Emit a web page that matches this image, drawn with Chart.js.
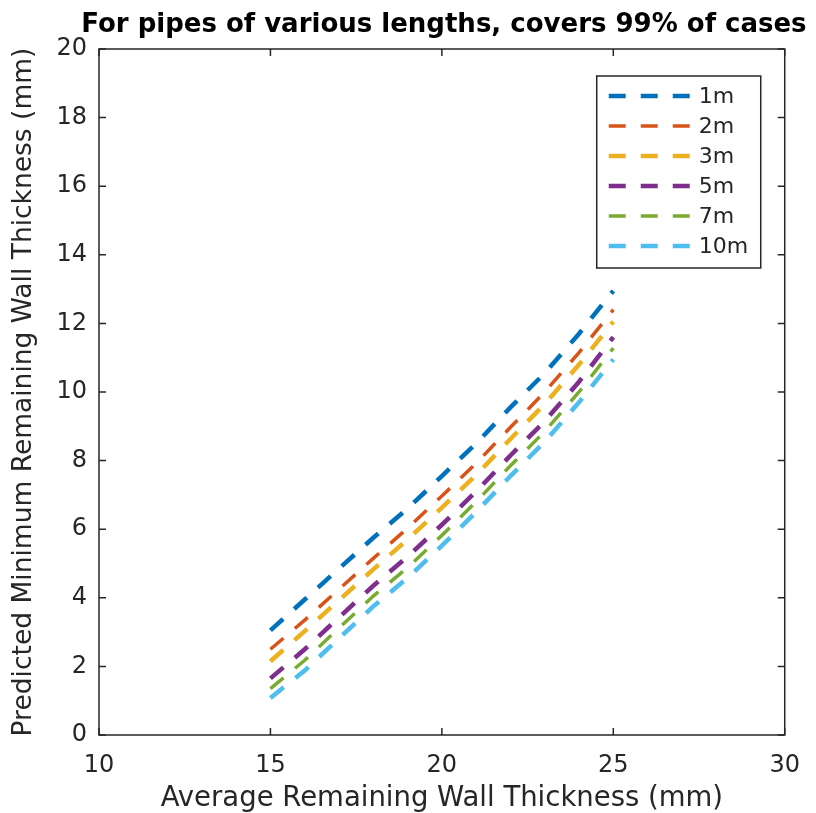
<!DOCTYPE html>
<html>
<head>
<meta charset="utf-8">
<script src="https://cdn.jsdelivr.net/npm/chart.js@4.4.1/dist/chart.umd.min.js"></script>
<style>
  html, body { margin: 0; padding: 0; background: #fff; }
  canvas { display: block; }
</style>
</head>
<body>
<canvas id="wallChart" width="816" height="813"></canvas>
<script>
// Valores (espessura média x espessura mínima prevista)
const avgThickness = [15, 16, 17, 18, 19, 20, 21, 22, 23, 24, 25];
const min1m  = [3.05, 3.95, 4.85, 5.75, 6.60, 7.55, 8.50, 9.55, 10.55, 11.70, 12.95];
const min2m  = [2.50, 3.35, 4.25, 5.15, 6.03, 6.97, 7.92, 8.97, 10.00, 11.15, 12.40];
const min3m  = [2.15, 3.03, 3.93, 4.83, 5.70, 6.63, 7.58, 8.63, 9.65, 10.80, 12.05];
const min5m  = [1.65, 2.50, 3.43, 4.35, 5.20, 6.13, 7.10, 8.15, 9.15, 10.30, 11.60];
const min7m  = [1.35, 2.18, 3.12, 4.05, 4.88, 5.82, 6.80, 7.85, 8.85, 10.00, 11.28];
const min10m = [1.08, 1.88, 2.82, 3.75, 4.58, 5.52, 6.50, 7.55, 8.55, 9.70, 10.95];

const seriesLabels = ['1m', '2m', '3m', '5m', '7m', '10m'];
const xTickValues = [10, 15, 20, 25, 30];
const yTickValues = [0, 2, 4, 6, 8, 10, 12, 14, 16, 18, 20];
const chartTitle = 'For pipes of various lengths, covers 99% of cases';

// Cores padrão do MATLAB
const seriesColors = ['#0072BD', '#D95319', '#EDB120', '#7E2F8E', '#77AC30', '#4DBEEE'];
const seriesWidths = [4.5, 3.5, 4.5, 4.5, 3.5, 4.5];
const dashPattern = [17, 15];
const axisColor = '#262626';

Chart.defaults.font.family = "'DejaVu Sans', sans-serif";
Chart.defaults.color = axisColor;

const allSeries = [min1m, min2m, min3m, min5m, min7m, min10m];

const datasets = allSeries.map((values, i) => ({
  label: seriesLabels[i],
  data: values.map((v, j) => ({ x: avgThickness[j], y: v })),
  borderColor: seriesColors[i],
  backgroundColor: seriesColors[i],
  borderWidth: seriesWidths[i],
  borderDash: dashPattern,
  showLine: true,
  pointRadius: 0,
  fill: false,
  tension: 0
}));

// Caixa do eixo com marcas para dentro (estilo MATLAB) + título centrado na área do gráfico
const boxAxesPlugin = {
  id: 'boxAxes',
  afterDraw(chart) {
    const { ctx, chartArea: a, scales } = chart;
    const tickLen = 7;
    ctx.save();
    ctx.strokeStyle = axisColor;
    ctx.lineWidth = 1.5;
    ctx.setLineDash([]);
    ctx.strokeRect(a.left, a.top, a.right - a.left, a.bottom - a.top);
    ctx.beginPath();
    xTickValues.forEach(v => {
      const px = scales.x.getPixelForValue(v);
      ctx.moveTo(px, a.bottom); ctx.lineTo(px, a.bottom - tickLen);
      ctx.moveTo(px, a.top); ctx.lineTo(px, a.top + tickLen);
    });
    yTickValues.forEach(v => {
      const py = scales.y.getPixelForValue(v);
      ctx.moveTo(a.left, py); ctx.lineTo(a.left + tickLen, py);
      ctx.moveTo(a.right, py); ctx.lineTo(a.right - tickLen, py);
    });
    ctx.stroke();

    ctx.fillStyle = '#000';
    ctx.font = "bold 26px 'DejaVu Sans'";
    ctx.textAlign = 'center';
    ctx.textBaseline = 'middle';
    ctx.fillText(chartTitle, (a.left + a.right) / 2 + 2, 25);
    ctx.restore();
  }
};

// Legenda dentro da área do gráfico, canto superior direito
const innerLegendPlugin = {
  id: 'innerLegend',
  afterDraw(chart) {
    const { ctx, chartArea: a } = chart;
    const boxW = 164, boxH = 192;
    const left = a.right - 24 - boxW;
    const top = a.top + 27;
    ctx.save();
    ctx.fillStyle = '#fff';
    ctx.fillRect(left, top, boxW, boxH);
    ctx.strokeStyle = axisColor;
    ctx.lineWidth = 1.5;
    ctx.strokeRect(left, top, boxW, boxH);
    ctx.font = "22px 'DejaVu Sans'";
    ctx.textBaseline = 'middle';
    chart.data.datasets.forEach((ds, i) => {
      const y = top + 20 + i * 30;
      ctx.beginPath();
      ctx.setLineDash(dashPattern);
      ctx.strokeStyle = ds.borderColor;
      ctx.lineWidth = ds.borderWidth;
      ctx.moveTo(left + 12, y);
      ctx.lineTo(left + 93, y);
      ctx.stroke();
      ctx.setLineDash([]);
      ctx.fillStyle = axisColor;
      ctx.fillText(ds.label, left + 102, y + 1);
    });
    ctx.restore();
  }
};

new Chart(document.getElementById('wallChart'), {
  type: 'scatter',
  data: { datasets: datasets },
  options: {
    responsive: false,
    animation: false,
    layout: { padding: { left: 0, right: 30, top: 49, bottom: 0 } },
    plugins: {
      legend: { display: false },
      tooltip: { enabled: false },
      title: { display: false }
    },
    scales: {
      x: {
        type: 'linear',
        min: 10,
        max: 30,
        afterBuildTicks: axis => { axis.ticks = xTickValues.map(v => ({ value: v })); },
        afterFit: scale => { scale.height = 78; },
        grid: { display: false, drawTicks: false },
        border: { display: false },
        ticks: { font: { size: 24 }, padding: 16, maxRotation: 0 },
        title: {
          display: true,
          text: 'Average Remaining Wall Thickness (mm)',
          font: { size: 27.5, lineHeight: 1.0 },
          padding: { top: 0, bottom: 0 }
        }
      },
      y: {
        type: 'linear',
        min: 0,
        max: 20,
        afterBuildTicks: axis => { axis.ticks = yTickValues.map(v => ({ value: v })); },
        afterFit: scale => { scale.width = 99; },
        grid: { display: false, drawTicks: false },
        border: { display: false },
        ticks: { font: { size: 24 }, padding: 12 },
        title: {
          display: true,
          text: 'Predicted Minimum Remaining Wall Thickness (mm)',
          font: { size: 26.5, lineHeight: 1.2 },
          padding: { top: 8, bottom: 0 }
        }
      }
    }
  },
  plugins: [boxAxesPlugin, innerLegendPlugin]
});
</script>
</body>
</html>
